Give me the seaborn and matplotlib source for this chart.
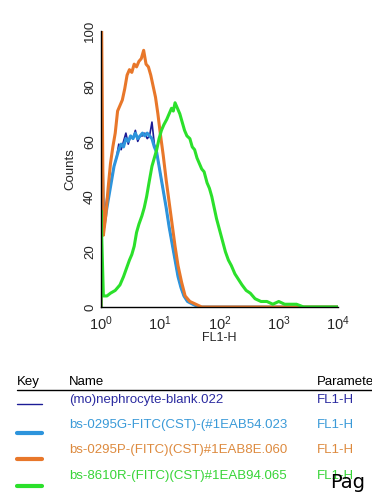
#!/usr/bin/env python3
"""Flow cytometry overlay: FL1-H histograms with key table below."""
import numpy as np
import pandas as pd
import matplotlib
matplotlib.use('Agg')
import matplotlib.pyplot as plt
from matplotlib.lines import Line2D
from matplotlib.ticker import MultipleLocator, LogLocator
import seaborn as sns

# sample names / colours (key table)
names = ['(mo)nephrocyte-blank.022',
         'bs-0295G-FITC(CST)-(#1EAB54.023',
         'bs-0295P-(FITC)(CST)#1EAB8E.060',
         'bs-8610R-(FITC)(CST)#1EAB94.065']
param = 'FL1-H'
colors = ['#1c1c96', '#2d94dc', '#e8772a', '#2be02b']
text_colors = ['#2b2ba0', '#3a9ad8', '#dd8a3e', '#37d437']

# FL1-H (decades, log10) vs counts
blank_dec = [0.0, 0.0, 0.05, 0.10, 0.14, 0.18, 0.22, 0.26, 0.30, 0.34, 0.38, 0.42, 0.46, 0.50,
             0.54, 0.58, 0.62, 0.66, 0.70, 0.74, 0.78, 0.82, 0.86, 0.90, 0.94, 0.98,
             1.02, 1.06, 1.10, 1.15, 1.20, 1.25, 1.30, 1.35, 1.40, 1.46, 1.55, 1.65, 4.0]
blank_cnt = [0, 66, 30, 40, 42, 47, 51, 54, 59, 57, 60, 63, 59, 62, 61, 64, 60, 62, 62, 63,
             61, 62, 67, 59, 56, 51, 46, 41, 36, 29, 23, 17, 11, 7, 4, 2, 1, 0, 0]
blue_dec = [0.0, 0.0, 0.05, 0.10, 0.14, 0.18, 0.22, 0.26, 0.30, 0.34, 0.38, 0.42, 0.46, 0.50,
            0.54, 0.58, 0.62, 0.66, 0.70, 0.74, 0.78, 0.82, 0.86, 0.90, 0.94, 0.98,
            1.02, 1.06, 1.10, 1.15, 1.20, 1.25, 1.30, 1.35, 1.40, 1.46, 1.55, 1.65, 4.0]
blue_cnt = [0, 69, 29, 36, 41, 46, 51, 54, 57, 59, 58, 61, 60, 62, 61, 63, 61, 62, 63, 62,
            63, 62, 61, 58, 56, 51, 46, 41, 36, 29, 23, 17, 11, 7, 4, 2, 1, 0, 0]
orange_dec = [0.0, 0.0, 0.04, 0.08, 0.12, 0.16, 0.20, 0.24, 0.28, 0.32, 0.36, 0.40, 0.44, 0.48,
              0.52, 0.56, 0.60, 0.64, 0.68, 0.72, 0.76, 0.80, 0.84, 0.88, 0.92, 0.96,
              1.00, 1.05, 1.10, 1.15, 1.20, 1.25, 1.30, 1.36, 1.42, 1.50, 1.60, 1.70, 4.0]
orange_cnt = [0, 130, 26, 33, 43, 52, 58, 63, 71, 73, 75, 79, 84, 86, 85, 88, 87, 89, 90, 93,
              88, 87, 84, 80, 76, 70, 63, 55, 46, 38, 30, 22, 15, 9, 4, 2, 1, 0, 0]
green_dec = [0.0, 0.0, 0.04, 0.10, 0.16, 0.24, 0.32, 0.38, 0.43, 0.48, 0.52, 0.56, 0.60, 0.64,
             0.69, 0.73, 0.77, 0.81, 0.86, 0.90, 0.94, 0.98, 1.02, 1.06, 1.11, 1.15, 1.19,
             1.22, 1.25, 1.29, 1.33, 1.37, 1.41, 1.45, 1.50, 1.54, 1.58, 1.62, 1.66, 1.70,
             1.74, 1.79, 1.83, 1.87, 1.91, 1.95, 2.00, 2.05, 2.10, 2.15, 2.20, 2.26, 2.32,
             2.38, 2.45, 2.52, 2.60, 2.70, 2.80, 2.90, 3.00, 3.10, 3.20, 3.30, 3.42, 4.0]
green_cnt = [0, 35, 4, 4, 5, 6, 8, 11, 14, 17, 19, 22, 27, 30, 33, 36, 40, 45, 51, 54, 57,
             61, 64, 66, 68, 70, 72, 71, 74, 72, 70, 67, 64, 62, 61, 58, 57, 54, 52, 50,
             49, 45, 43, 40, 36, 32, 28, 24, 20, 17, 15, 12, 10, 8, 6, 5, 3, 2, 2, 1, 2, 1,
             1, 1, 0, 0]

series = [(blank_dec, blank_cnt, 0, 1.2), (blue_dec, blue_cnt, 1, 2.2),
          (orange_dec, orange_cnt, 2, 2.2), (green_dec, green_cnt, 3, 2.2)]

sns.set_style('white')
plt.rcParams['font.family'] = ['Liberation Sans', 'DejaVu Sans']
plt.rcParams['mathtext.default'] = 'regular'

fig = plt.figure(figsize=(3.72, 4.92), dpi=100)
ax = fig.add_axes([101 / 372, 1 - 307 / 492, 237 / 372, 276 / 492])

for dec, cnt, k, lw in series:
    df = pd.DataFrame({'fl1h': 10 ** np.array(dec, dtype=float), 'counts': cnt})
    sns.lineplot(data=df, x='fl1h', y='counts', ax=ax, sort=False, estimator=None,
                 color=colors[k], linewidth=lw)

ax.set_xscale('log')
ax.set_xlim(1, 1e4)
ax.set_ylim(0, 100)
ax.xaxis.set_major_locator(LogLocator(base=10, numticks=10))
ax.xaxis.set_minor_locator(LogLocator(base=10, subs=np.arange(2, 10), numticks=20))
ax.yaxis.set_major_locator(MultipleLocator(20))
ax.yaxis.set_minor_locator(MultipleLocator(4))
for s in ['top', 'right']:
    ax.spines[s].set_visible(False)
for s in ['left', 'bottom']:
    ax.spines[s].set_color('black')
    ax.spines[s].set_linewidth(1.0)
ax.tick_params(which='major', direction='out', length=3.5, width=0.9, color='black',
               labelsize=9.5)
ax.tick_params(which='minor', direction='out', length=2.2, width=0.8, color='black')
ax.tick_params(axis='x', labelsize=10.5, pad=2)
ax.tick_params(axis='y', pad=0)
for lab in ax.get_yticklabels():
    lab.set_rotation(90)
    lab.set_va('center')
ax.set_xlabel('FL1-H', fontsize=9, labelpad=-1)
ax.set_ylabel('Counts', fontsize=9.5, labelpad=5.5)

# key table below the plot, in pixel coordinates
tab = fig.add_axes([0, 0, 1, 1], zorder=-1)
tab.set_xlim(0, 372)
tab.set_ylim(492, 0)
tab.axis('off')
fs = 9.5
tab.text(17, 382, 'Key', fontsize=fs, va='center', color='black')
tab.text(69, 382, 'Name', fontsize=fs, va='center', color='black')
tab.text(317, 382, 'Parameter', fontsize=fs, va='center', color='black', clip_on=True)
tab.add_line(Line2D([17, 372], [390, 390], color='black', lw=1.0))
row_y = [400, 425, 450, 476]
key_y = [404, 432.5, 459, 486]
key_w = [1.0, 3.0, 3.0, 3.0]
for k, name in enumerate(names):
    tab.add_line(Line2D([17, 42], [key_y[k], key_y[k]], color=colors[k], lw=key_w[k]))
    tab.text(69, row_y[k], name, fontsize=fs, va='center', color=text_colors[k])
    tab.text(317, row_y[k], param, fontsize=fs, va='center', color=text_colors[k])
tab.text(330, 483, 'Pag', fontsize=14, va='center', color='black', family='DejaVu Sans')

fig.savefig('out.png', dpi=100)
